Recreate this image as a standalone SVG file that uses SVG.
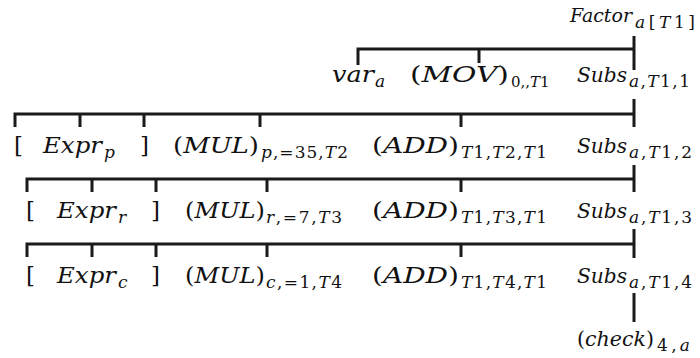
<svg xmlns="http://www.w3.org/2000/svg" width="700" height="358" viewBox="0 0 700 358">
<style>
text{font-family:"DejaVu Serif","Liberation Serif",serif;font-style:italic;fill:#111;font-size:23px}
.s{font-size:17px}
.n{font-size:20px}
.u{font-style:normal}
.c{fill:none;stroke:#1a1a1a;stroke-width:3;stroke-linejoin:miter}
</style>
<rect width="700" height="358" fill="#fff"/>
<g id="connectors">
<path class="c" d="M358,65 V49 H634 M479,49 V63 M634,36 V70"/>
<path class="c" d="M15,127 V114 H634 M80,114 V127 M144,114 V127 M260,114 V127 M461,114 V127 M634,99 V127"/>
<path class="c" d="M27,192 V179 H634 M92,179 V192 M156,179 V192 M267,179 V192 M461,179 V192 M634,165 V192"/>
<path class="c" d="M27,257 V244 H634 M92,244 V257 M156,244 V257 M267,244 V257 M461,244 V257 M634,229 V258"/>
<path class="c" d="M634,293 V322"/>
</g>
<g id="factor">
<text x="570" y="22"><tspan style="font-size:19px" textLength="62" lengthAdjust="spacingAndGlyphs">Factor</tspan><tspan class="s" x="635" dy="6" textLength="60" lengthAdjust="spacing">a<tspan class="u">[</tspan>T<tspan class="u">1]</tspan></tspan></text>
</g>
<g id="var_a">
<text x="332" y="82"><tspan textLength="42" lengthAdjust="spacingAndGlyphs">var</tspan><tspan class="s" x="375" dy="5">a</tspan></text>
</g>
<g id="mov">
<text x="410" y="82"><tspan textLength="99" lengthAdjust="spacingAndGlyphs"><tspan class="u">(</tspan>MOV<tspan class="u">)</tspan></tspan><tspan style="font-size:15px" x="511" dy="5"><tspan class="u">0,,</tspan>T<tspan class="u">1</tspan></tspan></text>
</g>
<g id="subs1">
<text x="577" y="82"><tspan class="n" textLength="50" lengthAdjust="spacingAndGlyphs">Subs</tspan><tspan class="s" x="629" dy="5" textLength="61" lengthAdjust="spacing">a<tspan class="u">,</tspan>T<tspan class="u">1,1</tspan></tspan></text>
</g>
<!-- row 2 -->
<g id="lb_p"><text class="u" x="14" y="153">[</text></g>
<g id="expr_p">
<text x="43" y="153"><tspan textLength="59" lengthAdjust="spacingAndGlyphs">Expr</tspan><tspan class="s" x="104" dy="5">p</tspan></text>
</g>
<g id="rb_p"><text class="u" x="140" y="153">]</text></g>
<g id="mul_p">
<text x="173" y="153"><tspan textLength="86" lengthAdjust="spacingAndGlyphs"><tspan class="u">(</tspan>MUL<tspan class="u">)</tspan></tspan><tspan class="s" x="261" dy="5" textLength="87" lengthAdjust="spacing">p<tspan class="u">,=35,</tspan>T<tspan class="u">2</tspan></tspan></text>
</g>
<g id="add_2">
<text x="372" y="153"><tspan textLength="87" lengthAdjust="spacingAndGlyphs"><tspan class="u">(</tspan>ADD<tspan class="u">)</tspan></tspan><tspan class="s" x="461" dy="5" textLength="86" lengthAdjust="spacing">T<tspan class="u">1,</tspan>T<tspan class="u">2,</tspan>T<tspan class="u">1</tspan></tspan></text>
</g>
<g id="subs2">
<text x="577" y="153"><tspan class="n" textLength="50" lengthAdjust="spacingAndGlyphs">Subs</tspan><tspan class="s" x="629" dy="5" textLength="63" lengthAdjust="spacing">a<tspan class="u">,</tspan>T<tspan class="u">1,2</tspan></tspan></text>
</g>
<!-- row 3 -->
<g id="lb_r"><text class="u" x="26" y="218">[</text></g>
<g id="expr_r">
<text x="57" y="218"><tspan textLength="59" lengthAdjust="spacingAndGlyphs">Expr</tspan><tspan class="s" x="118" dy="5">r</tspan></text>
</g>
<g id="rb_r"><text class="u" x="151" y="218">]</text></g>
<g id="mul_r">
<text x="185" y="218"><tspan textLength="80" lengthAdjust="spacingAndGlyphs"><tspan class="u">(</tspan>MUL<tspan class="u">)</tspan></tspan><tspan class="s" x="266" dy="5" textLength="76" lengthAdjust="spacing">r<tspan class="u">,=7,</tspan>T<tspan class="u">3</tspan></tspan></text>
</g>
<g id="add_3">
<text x="372" y="218"><tspan textLength="87" lengthAdjust="spacingAndGlyphs"><tspan class="u">(</tspan>ADD<tspan class="u">)</tspan></tspan><tspan class="s" x="461" dy="5" textLength="86" lengthAdjust="spacing">T<tspan class="u">1,</tspan>T<tspan class="u">3,</tspan>T<tspan class="u">1</tspan></tspan></text>
</g>
<g id="subs3">
<text x="577" y="218"><tspan class="n" textLength="50" lengthAdjust="spacingAndGlyphs">Subs</tspan><tspan class="s" x="629" dy="5" textLength="63" lengthAdjust="spacing">a<tspan class="u">,</tspan>T<tspan class="u">1,3</tspan></tspan></text>
</g>
<!-- row 4 -->
<g id="lb_c"><text class="u" x="26" y="283">[</text></g>
<g id="expr_c">
<text x="57" y="283"><tspan textLength="59" lengthAdjust="spacingAndGlyphs">Expr</tspan><tspan class="s" x="118" dy="5">c</tspan></text>
</g>
<g id="rb_c"><text class="u" x="151" y="283">]</text></g>
<g id="mul_c">
<text x="185" y="283"><tspan textLength="80" lengthAdjust="spacingAndGlyphs"><tspan class="u">(</tspan>MUL<tspan class="u">)</tspan></tspan><tspan class="s" x="266" dy="5" textLength="76" lengthAdjust="spacing">c<tspan class="u">,=1,</tspan>T<tspan class="u">4</tspan></tspan></text>
</g>
<g id="add_4">
<text x="372" y="283"><tspan textLength="87" lengthAdjust="spacingAndGlyphs"><tspan class="u">(</tspan>ADD<tspan class="u">)</tspan></tspan><tspan class="s" x="461" dy="5" textLength="86" lengthAdjust="spacing">T<tspan class="u">1,</tspan>T<tspan class="u">4,</tspan>T<tspan class="u">1</tspan></tspan></text>
</g>
<g id="subs4">
<text x="577" y="283"><tspan class="n" textLength="50" lengthAdjust="spacingAndGlyphs">Subs</tspan><tspan class="s" x="629" dy="5" textLength="63" lengthAdjust="spacing">a<tspan class="u">,</tspan>T<tspan class="u">1,4</tspan></tspan></text>
</g>
<g id="check">
<text x="577" y="346"><tspan class="n" textLength="77" lengthAdjust="spacingAndGlyphs"><tspan class="u">(</tspan>check<tspan class="u">)</tspan></tspan><tspan class="s" x="657" dy="5" textLength="33" lengthAdjust="spacing"><tspan class="u">4,</tspan>a</tspan></text>
</g>
</svg>
